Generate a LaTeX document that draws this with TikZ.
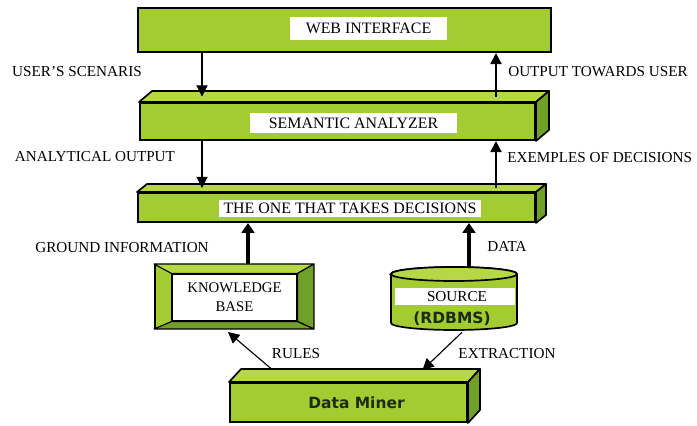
\documentclass[tikz,border=0pt]{standalone}
\usepackage{fontspec}
\setmainfont{Liberation Serif}
\newfontfamily\minerfont{DejaVu Sans}
\usetikzlibrary{calc,arrows.meta}
\definecolor{boxgreen}{RGB}{163,204,51}
\definecolor{topgreen}{RGB}{182,216,70}
\definecolor{sidegreen}{RGB}{112,160,40}
\definecolor{inkgreen}{RGB}{28,44,16}
\tikzset{
	slab/.style={draw=black, line width=1.4pt, fill=boxgreen, inner sep=0pt},
	topface/.style={draw=black, line width=1.2pt, fill=topgreen, line join=round},
	sideface/.style={draw=black, line width=1.2pt, fill=sidegreen, line join=round},
	tag/.style={fill=white, inner sep=0pt, font=\fontsize{11.3}{13}\selectfont},
	lbl/.style={inner sep=0pt, font=\fontsize{10.8}{13}\selectfont},
	sans/.style={inner sep=0pt, text=inkgreen, font=\minerfont\bfseries\fontsize{11}{13}\selectfont},
	flow/.style={-{Triangle[width=8pt,length=8pt]}, line width=0.8pt},
	upflow/.style={-{Triangle[width=8pt,length=8pt]}, line width=1.4pt},
	bigflow/.style={-{Triangle[width=9pt,length=7pt]}, line width=2.8pt},
}
\begin{document}
\begin{tikzpicture}[x=0.025cm, y=-0.025cm]
	\newcommand{\px}{0.025cm}
	\newcommand{\slabfaces}[3]{
		\draw[topface] (#1.north west) -- ++(#2,#3) -- ($(#1.north east)+(#2,#3)$) -- (#1.north east) -- cycle;
		\draw[sideface] (#1.north east) -- ++(#2,#3) -- ($(#1.south east)+(#2,#3)$) -- (#1.south east) -- cycle;
		\coordinate (#1top) at ($(#1.north)+(0.5*#2,0.5*#3)$);
	}
	\useasboundingbox (0,0) rectangle (697,426);
	% the three layers
	\node[slab, minimum width=413*\px, minimum height=44*\px] (web) at (344.5,30) {};
	\node[tag, minimum width=157*\px, minimum height=23*\px] (webtag) at (368.5,28.5) {WEB INTERFACE};
	\node[slab, minimum width=395*\px, minimum height=37*\px] (sem) at (337.5,121.5) {};
	\slabfaces{sem}{13}{-11}
	\node[tag, minimum width=207*\px, minimum height=20*\px] (semtag) at (353.5,123) {SEMANTIC ANALYZER};
	\node[slab, minimum width=397*\px, minimum height=29*\px] (dec) at (336.5,207.5) {};
	\slabfaces{dec}{10}{-8}
	\node[tag, minimum width=262*\px, minimum height=17*\px] (dectag) at (350,208.5) {THE ONE THAT TAKES DECISIONS};
	% knowledge base
	\node[slab, minimum width=158*\px, minimum height=63*\px] (kb) at (234,296.5) {};
	\node[tag, draw=black, line width=0.8pt, align=center, minimum width=125*\px, minimum height=47*\px,
		font=\fontsize{10.5}{13.5}\selectfont] (kbin) at (234.5,297.5) {KNOWLEDGE\\BASE};
	\draw[topface, line width=0.8pt] (kb.north west) -- (kb.north east) -- (kbin.north east) -- (kbin.north west) -- cycle;
	\draw[sideface, line width=0.8pt] (kb.north east) -- (kb.south east) -- (kbin.south east) -- (kbin.north east) -- cycle;
	\draw[sideface, line width=0.8pt] (kb.south west) -- (kb.south east) -- (kbin.south east) -- (kbin.south west) -- cycle;
	% source cylinder
	\node[inner sep=0pt, minimum width=126*\px, minimum height=63*\px] (src) at (454,298.5) {};
	\filldraw[fill=boxgreen, line width=1.2pt] (391,274) -- (391,323)
		arc[start angle=180, end angle=360, x radius=1.575cm, y radius=0.175cm] -- (517,274)
		arc[start angle=0, end angle=180, x radius=1.575cm, y radius=0.175cm] -- cycle;
	\draw[topface] (454,274) ellipse[x radius=1.575cm, y radius=0.175cm];
	\fill[white] (395,288) rectangle (515,305);
	\node[lbl] (srclbl) at (457,297) {SOURCE};
	\node[sans] (rdbms) at (452,319) {(RDBMS)};
	% data miner
	\node[slab, sans, minimum width=237*\px, minimum height=39*\px] (miner) at (348.5,402.5) {\hspace*{0.4cm}Data Miner};
	\slabfaces{miner}{12}{-13}
	% labels
	\foreach \i/\x/\y/\where/\txt in {
		1/77/72/center/USER'S SCENARIS,
		2/95/157/center/ANALYTICAL OUTPUT,
		3/122/248/center/GROUND INFORMATION,
		4/508/72/west/OUTPUT TOWARDS USER,
		5/507/158/west/EXEMPLES OF DECISIONS,
		6/487/247/west/DATA,
		7/296/354/center/RULES,
		8/507/354/center/EXTRACTION}
	{
		\node[lbl, anchor=\where] (lbl\i) at (\x,\y) {\txt};
	}
	% arrows
	\coordinate (colin) at (202,0);
	\coordinate (colout) at (496,0);
	\coordinate (colkb) at (248,0);
	\coordinate (colsrc) at (469,0);
	\draw[flow] (web.south -| colin) -- (semtop -| colin);
	\draw[upflow] (semtop -| colout) -- (web.south -| colout);
	\draw[flow] (sem.south -| colin) -- (dectop -| colin);
	\draw[upflow] (dectop -| colout) -- (sem.south -| colout);
	\draw[bigflow] (kb.north -| colkb) -- (dec.south -| colkb);
	\draw[bigflow] (src.north -| colsrc) -- (dec.south -| colsrc);
	\draw[flow] ($(miner.north)+(-77,-13)$) -- ($(kb.south)+(-6,3)$);
	\draw[flow] ($(src.south)+(8,2)$) -- ($(miner.north)+(74,-12)$);
\end{tikzpicture}
\end{document}
